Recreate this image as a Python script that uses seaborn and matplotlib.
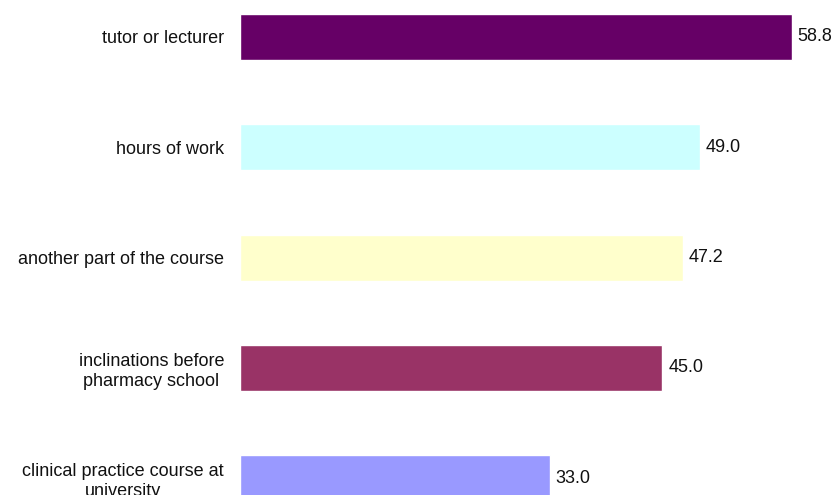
import matplotlib
matplotlib.use("Agg")
import matplotlib.pyplot as plt
import seaborn as sns
import pandas as pd

categories = [
    "tutor or lecturer",
    "hours of work",
    "another part of the course",
    "inclinations before\npharmacy school",
    "clinical practice course at\nuniversity",
]
values = [58.8, 49.0, 47.2, 45.0, 33.0]
colors = ["#660066", "#CCFFFF", "#FFFFCC", "#993366", "#9999FF"]

df = pd.DataFrame({"category": categories, "value": values})

sns.set_theme(style="white")
plt.rcParams["font.family"] = ["Liberation Sans", "DejaVu Sans"]

W, H = 834, 495
fig = plt.figure(figsize=(W / 100, H / 100), dpi=100)
px_per_unit = 9.38
x0 = 240
xmax = 60
ax = fig.add_axes([x0 / W, 0, xmax * px_per_unit / W, 1])

sns.barplot(data=df, x="value", y="category", hue="category",
            palette=colors, orient="h", width=0.416, legend=False,
            saturation=1, ax=ax)

pitch = 110.3
first_center = 37
ax.set_ylim(-first_center / pitch + H / pitch, -first_center / pitch)
ax.set_xlim(0, xmax)

for cont in ax.containers:
    ax.bar_label(cont, fmt="%.1f", padding=4.5, fontsize=13, color="#111111")

ax.set_xlabel("")
ax.set_ylabel("")
ax.set_xticks([])
ax.tick_params(axis="y", length=0, pad=11.5)
for lbl in ax.get_yticklabels():
    lbl.set_fontsize(13)
    lbl.set_multialignment("center")
    lbl.set_color("#111111")
for s in ax.spines.values():
    s.set_visible(False)

fig.savefig("out.png", dpi=100)
